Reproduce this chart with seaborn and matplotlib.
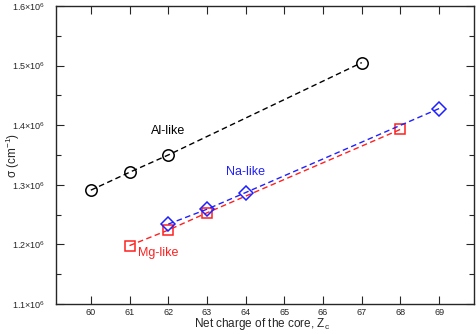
import matplotlib
matplotlib.use("Agg")
import matplotlib.pyplot as plt
import seaborn as sns
import pandas as pd
from matplotlib.ticker import FuncFormatter, MultipleLocator

sns.set_style("ticks")
plt.rcParams['font.family'] = ['Liberation Sans', 'DejaVu Sans']
plt.rcParams['mathtext.fontset'] = 'custom'
plt.rcParams['mathtext.rm'] = 'Liberation Sans'
plt.rcParams['mathtext.it'] = 'Liberation Sans'

al_z = [60, 61, 62, 67]
al_s = [1.291e6, 1.321e6, 1.350e6, 1.505e6]
na_z = [62, 63, 64, 69]
na_s = [1.234e6, 1.259e6, 1.287e6, 1.428e6]
mg_z = [61, 62, 63, 68]
mg_s = [1.198e6, 1.224e6, 1.253e6, 1.393e6]
x_ticks = [60, 61, 62, 63, 64, 65, 66, 67, 68, 69]

fig = plt.figure(figsize=(4.76, 3.34), dpi=100)
ax = fig.add_axes([56/476, 30/334, 418/476, 298/334])

series = [
    (al_z, al_s, 'black', 'o', 8.2),
    (mg_z, mg_s, '#ff2020', 's', 7.5),
    (na_z, na_s, '#2020ff', 'D', 6.8),
]
for z, s, c, m, ms in series:
    df = pd.DataFrame({'z': z, 's': s})
    sns.lineplot(data=df, x='z', y='s', ax=ax, color=c, linestyle=(0, (4, 2.5)),
                 linewidth=1.0, marker=m, markersize=ms, markerfacecolor='none',
                 markeredgecolor=c, markeredgewidth=1.1)

ax.set_xlim(59.1, 69.9)
ax.set_ylim(1.1e6, 1.6e6)
ax.set_xticks(x_ticks)
ax.yaxis.set_major_locator(MultipleLocator(1e5))
ax.yaxis.set_minor_locator(MultipleLocator(5e4))

def yfmt(v, pos):
    return r'%.1f$\times$10$^{6}$' % (v / 1e6)
ax.yaxis.set_major_formatter(FuncFormatter(yfmt))

ax.tick_params(which='both', direction='in', top=True, right=True, labelsize=6.5)
ax.tick_params(which='major', length=6, width=0.8)
ax.tick_params(which='minor', length=3.5, width=0.8)
ax.tick_params(axis='x', pad=3)
ax.tick_params(axis='y', pad=8)
for sp in ax.spines.values():
    sp.set_linewidth(1.0)
    sp.set_visible(True)

ax.set_xlabel(r'Net charge of the core, Z$_{c}$', fontsize=8.5)
ax.set_ylabel(r'σ (cm$^{-1}$)', fontsize=8.5)
ax.xaxis.set_label_coords((262 - 56) / 418, -(327.5 - 304) / 298)
ax.yaxis.set_label_coords(-(56 - 12.5) / 418, 0.5)
ax.xaxis.label.set_va('baseline')
ax.yaxis.label.set_va('center')

ax.text(62.0, 1.39e6, 'Al-like', color='black', fontsize=9, ha='center', va='center')
ax.text(64.0, 1.3215e6, 'Na-like', color='#2020ff', fontsize=9, ha='center', va='center')
ax.text(61.75, 1.1856e6, 'Mg-like', color='#ff2020', fontsize=9, ha='center', va='center')

fig.savefig('out.png', dpi=100)
